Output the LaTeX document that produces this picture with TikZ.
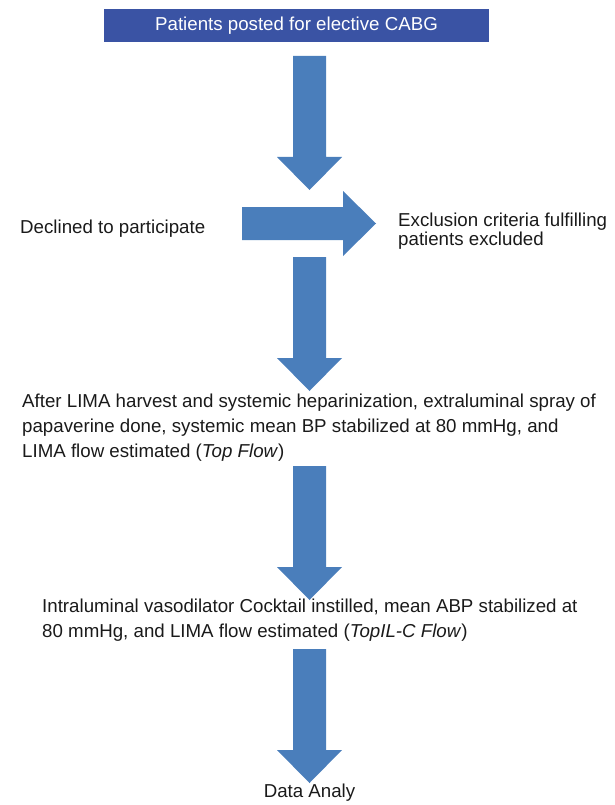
\documentclass[tikz,border=0pt]{standalone}
\usepackage{fontspec}
\setmainfont{Liberation Sans}
\usetikzlibrary{calc}
\definecolor{boxblue}{HTML}{3A53A4}
\definecolor{arrowblue}{HTML}{4A7EBB}
\definecolor{textgray}{HTML}{1A1A1A}

% block arrow pointing down: #1 = x of axis, #2 = y of shaft top
\newcommand{\blockdown}[2]{%
	\fill[arrowblue] (#1-16.5,#2) -- (#1+16.5,#2) -- (#1+16.5,#2+101)
		-- (#1+32.5,#2+101) -- (#1,#2+134) -- (#1-32.5,#2+101)
		-- (#1-16.5,#2+101) -- cycle;}

\begin{document}
\begin{tikzpicture}[x=1pt, y=-1pt, font=\fontsize{18.7}{25}\selectfont,
		steptext/.style={anchor=west, align=left, text=textgray, inner sep=0pt}]
	
	\useasboundingbox (0,0) rectangle (614,805);
	
	% ===== Top: study population =====
	\fill[boxblue] (104,9) rectangle (489,42);
	\node[text=white, inner sep=0pt] (start) at (296.5,25.5) {Patients posted for elective CABG};
	
	% ===== Exclusions =====
	\blockdown{309.5}{56}
	\fill[arrowblue] (242,207) -- (343,207) -- (343,191) -- (376,223.5)
		-- (343,256) -- (343,240) -- (242,240) -- cycle;
	\node[steptext] (declined) at (20,229) {Declined to participate};
	\node[steptext] (excluded) at (398,231) {Exclusion criteria fulfilling\\[-6pt]patients excluded};
	
	% ===== Measurements =====
	\blockdown{309.5}{257}
	\node[steptext] (topflow) at (22,428) {After LIMA harvest and systemic heparinization, extraluminal spray of\\
		papaverine done, systemic mean BP stabilized at 80 mmHg, and\\
		LIMA flow estimated (\textit{Top Flow})};
	
	\blockdown{309.5}{466}
	\node[steptext] (ilcflow) at (42,620) {Intraluminal vasodilator Cocktail instilled, mean ABP stabilized at\\
		80 mmHg, and LIMA flow estimated (\textit{TopIL-C Flow})};
	
	% ===== Analysis =====
	\blockdown{309.5}{649}
	\node[text=textgray, inner sep=0pt] (analysis) at (309.5,793) {Data Analy};
	
\end{tikzpicture}
\end{document}
